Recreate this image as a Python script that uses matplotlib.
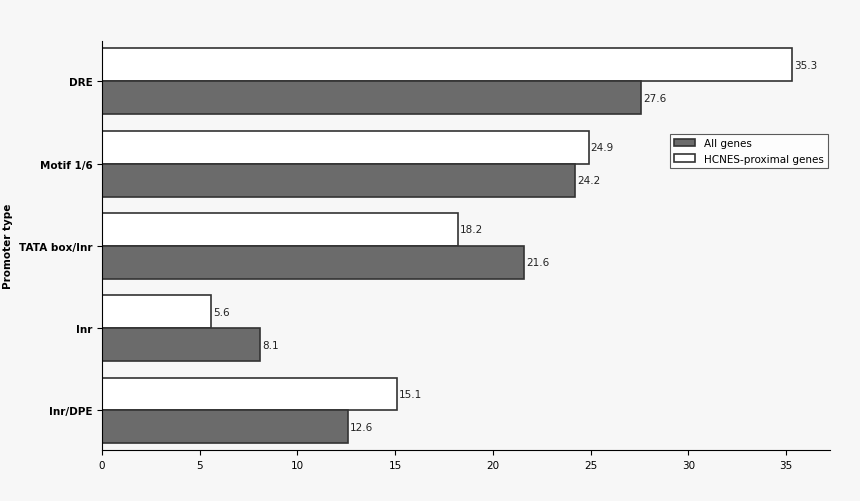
import matplotlib
matplotlib.use("Agg")
import matplotlib.pyplot as plt
import numpy as np

categories = ["DRE", "Motif 1/6", "TATA box/Inr", "Inr", "Inr/DPE"]
hcnes = [35.3, 24.9, 18.2, 5.6, 15.1]
all_genes = [27.6, 24.2, 21.6, 8.1, 12.6]

fig = plt.figure(figsize=(8.6, 5.02), dpi=100, facecolor="#f7f7f7")
ax = fig.add_axes([102 / 860, 1 - 451 / 502, (830 - 102) / 860, (451 - 42) / 502])
ax.set_facecolor("#f7f7f7")

y = np.arange(len(categories))
h = 0.4
b1 = ax.barh(y - h / 2, hcnes, height=h, color="white", edgecolor="#333333",
             linewidth=1.2, label="HCNES-proximal genes")
b2 = ax.barh(y + h / 2, all_genes, height=h, color="#6b6b6b", edgecolor="#333333",
             linewidth=1.2, label="All genes")
for bars, vals in ((b1, hcnes), (b2, all_genes)):
    for r, v in zip(bars, vals):
        ax.text(v + 0.1, r.get_y() + r.get_height() / 2, f"{v}",
                va="center", ha="left", fontsize=7.5, color="#222222")

ax.set_xlim(0, 37.25)
ax.set_ylim(4.48, -0.49)
ax.set_xticks(range(0, 36, 5))
ax.set_yticks(y)
ax.set_yticklabels(categories, fontweight="bold", fontsize=7.5)
ax.tick_params(axis="x", labelsize=7.5)
ax.set_ylabel("Promoter type", fontweight="bold", fontsize=7.5)
for s in ("top", "right"):
    ax.spines[s].set_visible(False)

leg = ax.legend(handles=[b2, b1], loc="upper left",
                bbox_to_anchor=((665 - 102) / 728, 1 - (130 - 42) / 409),
                fontsize=7.5, frameon=True, fancybox=False, edgecolor="#333333",
                facecolor="white")
leg.get_frame().set_linewidth(0.8)

fig.savefig("out.png", dpi=100, facecolor=fig.get_facecolor())
